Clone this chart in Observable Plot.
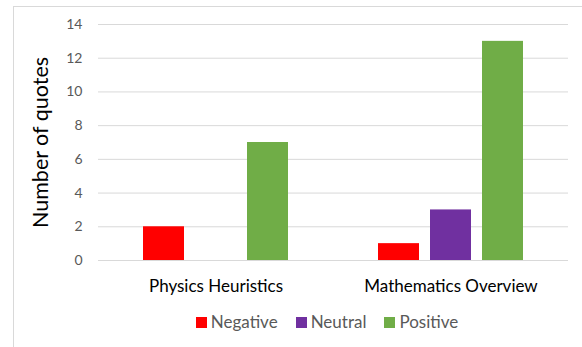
<!DOCTYPE html>
<html>
<head>
<meta charset="utf-8">
<script src="https://cdn.jsdelivr.net/npm/d3@7"></script>
<script src="https://cdn.jsdelivr.net/npm/@observablehq/plot@0.6"></script>
<style>
  html, body { margin: 0; padding: 0; background: #fff; }
  #wrap { position: relative; width: 582px; height: 347px; overflow: hidden; font-family: Lato, "Open Sans", sans-serif; }
  #frame { position: absolute; left: 13px; top: 6px; width: 640px; height: 420px; border: 1px solid #d9d9d9; box-sizing: border-box; }
  #chart { position: absolute; left: 0; top: 0; }
  #legend { position: absolute; left: 92px; width: 470px; top: 312px; display: flex; justify-content: center; gap: 18px; color: #595959; font-size: 17px; line-height: 20px; }
  #legend .item { display: flex; align-items: center; gap: 4px; }
  #legend .sw { width: 11px; height: 11px; display: inline-block; }
  g[aria-label="y-axis label"] { font-size: 21.5px; fill: #000; }
</style>
</head>
<body>
<div id="wrap">
  <div id="frame"></div>
  <div id="chart"></div>
  <div id="legend"></div>
</div>
<script>
// Quote counts by sentiment for each course section
const groups = ["Physics Heuristics", "Mathematics Overview"];
const sentiments = ["Negative", "Neutral", "Positive"];
const sentimentColors = ["#FF0000", "#7030A0", "#70AD47"];
const physicsCounts = [2, 0, 7];
const mathCounts = [1, 3, 13];
const yTicks = [0, 2, 4, 6, 8, 10, 12, 14];

const rows = [];
[physicsCounts, mathCounts].forEach((counts, gi) =>
  counts.forEach((v, si) => rows.push({group: groups[gi], sentiment: sentiments[si], count: v}))
);

const chart = Plot.plot({
  width: 582,
  height: 300,
  marginLeft: 98,
  marginRight: 14,
  marginTop: 24,
  marginBottom: 40,
  style: {fontFamily: "Lato, 'Open Sans', sans-serif", background: "transparent"},
  fx: {domain: groups, padding: 0, label: null},
  x: {domain: sentiments, paddingInner: 0.22, paddingOuter: 0.85, axis: null},
  y: {domain: [0, 14]},
  color: {domain: sentiments, range: sentimentColors},
  marks: [
    Plot.gridY(yTicks, {stroke: "#d9d9d9", strokeOpacity: 1, strokeWidth: 1}),
    Plot.axisY(yTicks, {
      tickSize: 0, tickPadding: 16, fontSize: 14, color: "#595959",
      label: "Number of quotes", labelAnchor: "center", labelArrow: "none", labelOffset: 66
    }),
    Plot.axisFx({anchor: "bottom", tickSize: 0, tickPadding: 19, fontSize: 17, color: "#000", label: null}),
    Plot.barY(rows, {fx: "group", x: "sentiment", y: "count", fill: "sentiment"})
  ]
});
document.getElementById("chart").appendChild(chart);

// Legend row under the chart
const legend = document.getElementById("legend");
sentiments.forEach((s, i) => {
  const item = document.createElement("span");
  item.className = "item";
  const sw = document.createElement("span");
  sw.className = "sw";
  sw.style.background = sentimentColors[i];
  const label = document.createElement("span");
  label.textContent = s;
  item.appendChild(sw);
  item.appendChild(label);
  legend.appendChild(item);
});
</script>
</body>
</html>
